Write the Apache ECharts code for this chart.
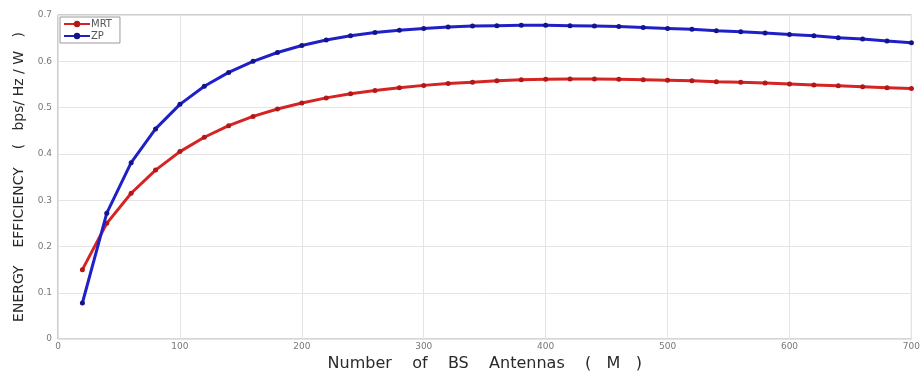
<!DOCTYPE html>
<html><head><meta charset="utf-8">
<script src="https://cdn.jsdelivr.net/npm/echarts@6/dist/echarts.min.js"></script>
<style>html,body{margin:0;padding:0;background:#fff}#c{width:923px;height:377px}</style>
</head><body><div id="c"></div>
<script>
const antennas = [20,40,60,80,100,120,140,160,180,200,220,240,260,280,300,320,340,360,380,400,420,440,460,480,500,520,540,560,580,600,620,640,660,680,700];
const mrt = [0.150,0.250,0.315,0.365,0.405,0.436,0.461,0.481,0.497,0.510,0.521,0.530,0.537,0.543,0.548,0.552,0.555,0.558,0.560,0.561,0.562,0.562,0.561,0.560,0.559,0.558,0.556,0.555,0.553,0.551,0.549,0.547,0.545,0.543,0.541];
const zp  = [0.078,0.272,0.381,0.454,0.507,0.546,0.576,0.600,0.619,0.634,0.646,0.655,0.662,0.667,0.671,0.674,0.676,0.677,0.678,0.678,0.677,0.676,0.675,0.673,0.671,0.669,0.666,0.664,0.661,0.658,0.655,0.651,0.648,0.644,0.640];
const xTicks = [0,100,200,300,400,500,600,700];
const yTicks = [0,0.1,0.2,0.3,0.4,0.5,0.6,0.7];
const seriesNames = ['MRT','ZP'];

const chart = echarts.init(document.getElementById('c'), null, {renderer:'canvas'});
const pair = (vals) => antennas.map((a,i)=>[a, vals[i]]);
chart.setOption({
  animation:false,
  backgroundColor:'#ffffff',
  grid:{left:58, right:4, top:15, bottom:31, show:true, borderColor:'#9a9a9a', borderWidth:1},
  legend:{
    data:seriesNames, orient:'vertical', left:60, top:17, itemGap:2,
    itemWidth:26, itemHeight:8, padding:[2,8,2,3],
    backgroundColor:'#fff', borderColor:'#9a9a9a', borderWidth:1,
    textStyle:{fontSize:10, color:'#555', fontFamily:'DejaVu Sans', padding:[0,0,0,-4]}
  },
  xAxis:{
    type:'value', min:xTicks[0], max:xTicks[xTicks.length-1], interval:100,
    name:'Number    of    BS    Antennas    (   M   )', nameLocation:'middle', nameGap:16,
    nameTextStyle:{fontSize:16, color:'#2a2a2a', fontFamily:'DejaVu Sans'},
    axisLine:{show:false}, axisTick:{show:false},
    axisLabel:{fontSize:9, color:'#777', margin:3, fontFamily:'DejaVu Sans'},
    splitLine:{show:true, lineStyle:{color:'#e4e4e4', width:1}}
  },
  yAxis:{
    type:'value', min:yTicks[0], max:yTicks[yTicks.length-1], interval:0.1,
    name:'ENERGY    EFFICIENCY    (   bps/ Hz / W   )', nameLocation:'middle', nameGap:31,
    nameTextStyle:{fontSize:14, color:'#2a2a2a', fontFamily:'DejaVu Sans'},
    axisLine:{show:false}, axisTick:{show:false},
    axisLabel:{fontSize:9, color:'#777', margin:6, fontFamily:'DejaVu Sans',
      formatter:v=>v===0?'0':v.toFixed(1)},
    splitLine:{show:true, lineStyle:{color:'#e4e4e4', width:1}}
  },
  series:[
    {name:seriesNames[0], type:'line', data:pair(mrt), symbol:'circle', symbolSize:5,
     lineStyle:{color:'#d42424', width:3}, itemStyle:{color:'#b31818'}, z:2},
    {name:seriesNames[1], type:'line', data:pair(zp), symbol:'circle', symbolSize:5,
     lineStyle:{color:'#2020c8', width:3}, itemStyle:{color:'#14148a'}, z:3}
  ]
});
</script></body></html>
